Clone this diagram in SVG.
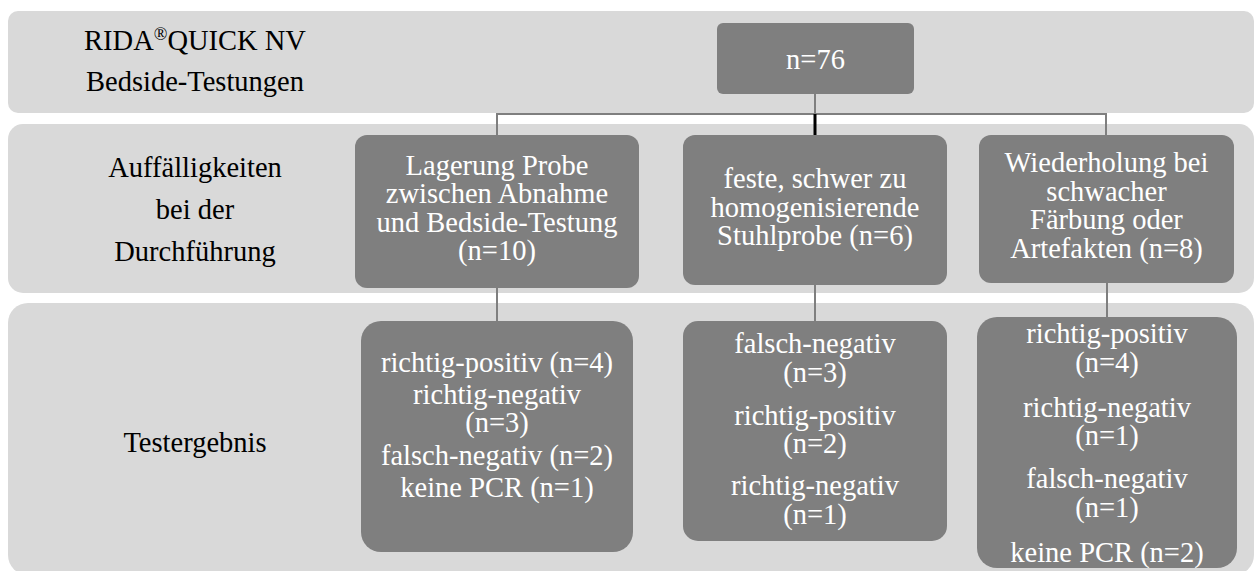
<svg xmlns="http://www.w3.org/2000/svg" width="1255" height="571" viewBox="0 0 1255 571">
<style>
.band{fill:#d9d9d9}
.box{fill:#7f7f7f}
.lbl{font-family:"Liberation Serif","Times New Roman",serif;font-size:28.5px;fill:#000;text-anchor:middle}
.t{font-family:"Liberation Serif","Times New Roman",serif;font-size:28.5px;fill:#fff;text-anchor:middle}
.c{stroke:#7f7f7f;stroke-width:2;fill:none}
</style>
<rect width="1255" height="571" fill="#fff"/>
<g id="bands">
<rect class="band" x="8" y="11" width="1246" height="102" rx="10"/>
<rect class="band" x="8" y="124" width="1246" height="169" rx="15"/>
<rect class="band" x="8" y="303" width="1246" height="272" rx="20"/>
</g>
<g id="label-rida">
<text class="lbl" x="195" y="50">RIDA<tspan font-size="18" dy="-10">®</tspan><tspan dy="10">QUICK NV</tspan></text>
<text class="lbl" x="195" y="91">Bedside-Testungen</text>
</g>
<g id="label-auff">
<text class="lbl" x="195" y="177">Auffälligkeiten</text>
<text class="lbl" x="195" y="219">bei der</text>
<text class="lbl" x="195" y="261">Durchführung</text>
</g>
<g id="label-test">
<text class="lbl" x="195" y="452">Testergebnis</text>
</g>
<g id="connectors">
<line class="c" x1="815" y1="94" x2="815" y2="114"/>
<polyline class="c" points="497,135 497,114 1106,114 1106,135"/>
<line x1="815" y1="114" x2="815" y2="135" stroke="#000" stroke-width="3"/>
<line class="c" x1="497" y1="288" x2="497" y2="321"/>
<line class="c" x1="815" y1="285" x2="815" y2="321"/>
<line class="c" x1="1107" y1="283" x2="1107" y2="317"/>
</g>
<g id="n76">
<rect class="box" x="717" y="23" width="197" height="71" rx="6"/>
<text class="t" x="815.5" y="69">n=76</text>
</g>
<g id="lagerung">
<rect class="box" x="355" y="135" width="284" height="153" rx="12"/>
<text class="t" x="497" y="175">Lagerung Probe</text>
<text class="t" x="497" y="203">zwischen Abnahme</text>
<text class="t" x="497" y="232">und Bedside-Testung</text>
<text class="t" x="497" y="260">(n=10)</text>
</g>
<g id="feste">
<rect class="box" x="683" y="135" width="264" height="150" rx="12"/>
<text class="t" x="815" y="188">feste, schwer zu</text>
<text class="t" x="815" y="217">homogenisierende</text>
<text class="t" x="815" y="245">Stuhlprobe (n=6)</text>
</g>
<g id="wiederholung">
<rect class="box" x="979" y="135" width="255" height="148" rx="12"/>
<text class="t" x="1106.5" y="172">Wiederholung bei</text>
<text class="t" x="1106.5" y="201">schwacher</text>
<text class="t" x="1106.5" y="229">Färbung oder</text>
<text class="t" x="1106.5" y="258">Artefakten (n=8)</text>
</g>
<g id="ergebnis-lagerung">
<rect class="box" x="361" y="321" width="272" height="231" rx="20"/>
<text class="t" x="497" y="372">richtig-positiv (n=4)</text>
<text class="t" x="497" y="404">richtig-negativ</text>
<text class="t" x="497" y="432">(n=3)</text>
<text class="t" x="497" y="465">falsch-negativ (n=2)</text>
<text class="t" x="497" y="497">keine PCR (n=1)</text>
</g>
<g id="ergebnis-feste">
<rect class="box" x="683" y="321" width="264" height="220" rx="15"/>
<text class="t" x="815" y="353">falsch-negativ</text>
<text class="t" x="815" y="382">(n=3)</text>
<text class="t" x="815" y="425">richtig-positiv</text>
<text class="t" x="815" y="453">(n=2)</text>
<text class="t" x="815" y="495">richtig-negativ</text>
<text class="t" x="815" y="524">(n=1)</text>
</g>
<g id="ergebnis-wiederholung">
<rect class="box" x="977" y="317" width="260" height="251" rx="20"/>
<text class="t" x="1107" y="343">richtig-positiv</text>
<text class="t" x="1107" y="372">(n=4)</text>
<text class="t" x="1107" y="417">richtig-negativ</text>
<text class="t" x="1107" y="445">(n=1)</text>
<text class="t" x="1107" y="488">falsch-negativ</text>
<text class="t" x="1107" y="517">(n=1)</text>
<text class="t" x="1107" y="562">keine PCR (n=2)</text>
</g>
</svg>
